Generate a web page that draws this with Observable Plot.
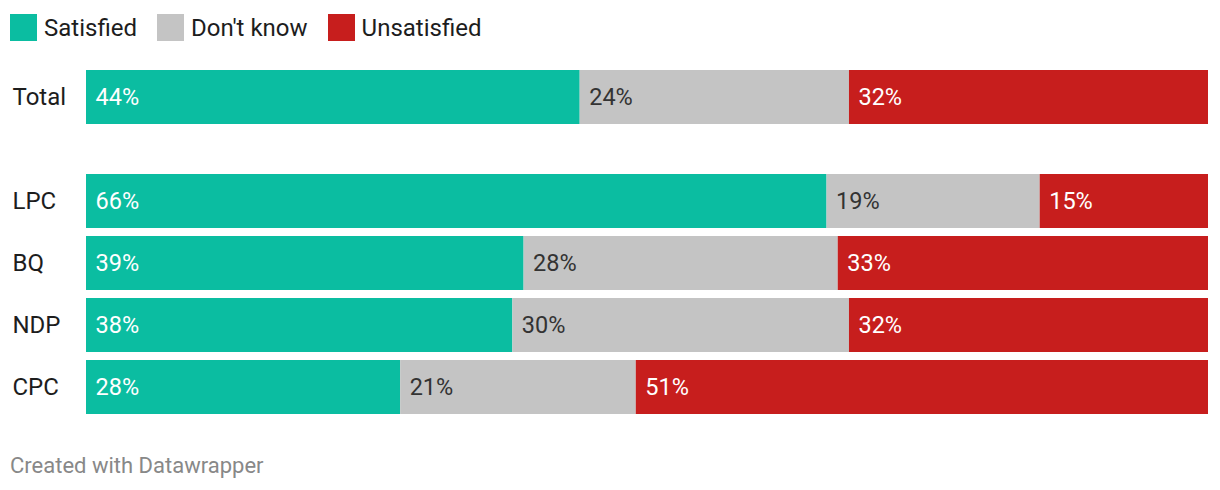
<!DOCTYPE html>
<html>
<head>
<meta charset="utf-8">
<script src="https://cdn.jsdelivr.net/npm/d3@7"></script>
<script src="https://cdn.jsdelivr.net/npm/@observablehq/plot@0.6"></script>
<style>
  html, body { margin: 0; padding: 0; background: #fff; }
  body { width: 1220px; height: 490px; position: relative; font-family: Roboto, sans-serif; overflow: hidden; }
  #legend { position: absolute; left: 10px; top: 14px; height: 27px; display: flex; align-items: center; font-size: 24px; color: #1d1d1d; }
  #legend .item { display: flex; align-items: center; margin-right: 20px; }
  #legend .sw { width: 27px; height: 27px; margin-right: 7px; }
  #total { position: absolute; left: 0; top: 70px; }
  #parties { position: absolute; left: 0; top: 174px; }
  #footer { position: absolute; left: 10px; top: 453px; font-size: 22px; line-height: 26px; color: #888; }
</style>
</head>
<body>
<div id="legend"></div>
<div id="total"></div>
<div id="parties"></div>
<div id="footer">Created with Datawrapper</div>
<script>
const answers = ["Satisfied", "Don't know", "Unsatisfied"];
const colors = ["#0bbda1", "#c4c4c4", "#c71e1d"];
const labelColors = ["#ffffff", "#333333", "#ffffff"];

const totalGroup = ["Total"];
const totalSatisfied = [44];
const totalDontKnow = [24];
const totalUnsatisfied = [32];

const parties = ["LPC", "BQ", "NDP", "CPC"];
const partySatisfied = [66, 39, 38, 28];
const partyDontKnow = [19, 28, 30, 21];
const partyUnsatisfied = [15, 33, 32, 51];

function rows(groups, s, d, u) {
  const out = [];
  groups.forEach((g, i) => {
    out.push({group: g, answer: answers[0], value: s[i]});
    out.push({group: g, answer: answers[1], value: d[i]});
    out.push({group: g, answer: answers[2], value: u[i]});
  });
  return out;
}

// legend
const legend = document.getElementById("legend");
answers.forEach((a, i) => {
  const it = document.createElement("div");
  it.className = "item";
  const sw = document.createElement("div");
  sw.className = "sw";
  sw.style.background = colors[i];
  const t = document.createElement("span");
  t.textContent = a;
  it.appendChild(sw); it.appendChild(t);
  legend.appendChild(it);
});

function chart(groups, data, height, padding) {
  return Plot.plot({
    width: 1220,
    height,
    marginLeft: 86,
    marginRight: 12,
    marginTop: 0,
    marginBottom: 0,
    style: {fontFamily: "Roboto, sans-serif", background: "transparent"},
    x: {domain: [0, 100], axis: null},
    y: {domain: groups, paddingInner: padding, paddingOuter: 0, label: null},
    color: {domain: answers, range: colors},
    marks: [
      Plot.barX(data, Plot.stackX({x: "value", y: "group", z: "answer", fill: "answer", order: answers})),
      Plot.text(data, Plot.stackX1({
        x: "value", y: "group", z: "answer", order: answers,
        text: d => d.value + "%",
        textAnchor: "start", dx: 9, fontSize: 23.5,
        fill: d => labelColors[answers.indexOf(d.answer)]
      })),
      Plot.axisY({tickSize: 0, tickPadding: 74, textAnchor: "start", fontSize: 24, fill: "#1d1d1d", label: null})
    ]
  });
}

document.getElementById("total").appendChild(
  chart(totalGroup, rows(totalGroup, totalSatisfied, totalDontKnow, totalUnsatisfied), 54, 0)
);
document.getElementById("parties").appendChild(
  chart(parties, rows(parties, partySatisfied, partyDontKnow, partyUnsatisfied), 240, 8 / 62)
);
</script>
</body>
</html>
